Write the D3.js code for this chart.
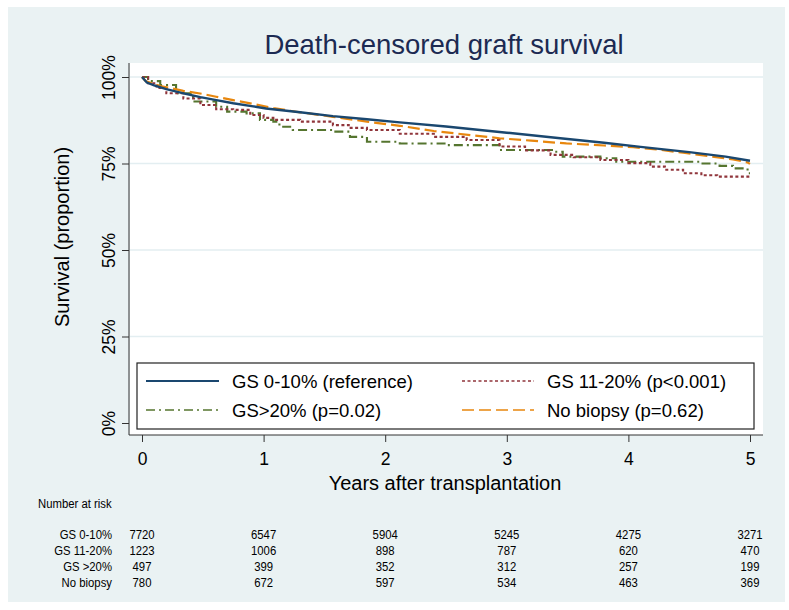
<!DOCTYPE html>
<html>
<head>
<meta charset="utf-8">
<script src="https://cdn.jsdelivr.net/npm/d3@7"></script>
<style>
  html, body { margin: 0; padding: 0; background: #ffffff; }
  svg { display: block; font-family: "Liberation Sans", Arial, Helvetica, sans-serif; }
</style>
</head>
<body>
<svg id="chart" width="789" height="610"></svg>
<script>
// ---- Data ----
const titleText = "Death-censored graft survival";
const xTicks = [0, 1, 2, 3, 4, 5];
const yTicks = [0, 0.25, 0.5, 0.75, 1];
const seriesNames = ["GS 0-10% (reference)", "GS 11-20% (p<0.001)", "GS>20% (p=0.02)", "No biopsy (p=0.62)"];
const riskLabels = ["GS 0-10%", "GS 11-20%", "GS >20%", "No biopsy"];

const riskGS010 = [7720, 6547, 5904, 5245, 4275, 3271];
const riskGS1120 = [1223, 1006, 898, 787, 620, 470];
const riskGS20 = [497, 399, 352, 312, 257, 199];
const riskNoBiopsy = [780, 672, 597, 534, 463, 369];

// Survival curves (years, proportion %)
const gs010Time = [0, 0.04, 0.1, 0.2, 0.35, 0.48, 0.6, 0.75, 0.9, 1.02, 1.3, 1.57, 1.85, 2.12, 2.5, 3.0, 3.44, 3.8, 4.1, 4.5, 4.8, 5.0];
const gs010Surv = [100, 98.4, 97.6, 96.5, 95.2, 94.2, 93.4, 92.4, 91.6, 90.9, 89.8, 88.7, 87.8, 86.9, 85.7, 83.9, 82.3, 81.0, 79.8, 78.3, 77.0, 75.8];

const gs1120Time = [0, 0.05, 0.12, 0.2, 0.34, 0.48, 0.61, 0.75, 0.89, 1.0, 1.08, 1.3, 1.57, 1.7, 1.85, 2.12, 2.4, 2.67, 2.94, 3.15, 3.36, 3.55, 3.77, 4.0, 4.18, 4.3, 4.45, 4.6, 4.73, 5.0];
const gs1120Surv = [100, 98.2, 96.8, 95.3, 93.8, 91.9, 90.7, 90.5, 89.0, 88.2, 87.6, 87.1, 86.1, 85.3, 84.7, 83.6, 82.7, 81.8, 79.9, 78.8, 77.5, 76.8, 76.0, 75.1, 74.1, 73.2, 72.2, 71.6, 71.2, 70.7];

const gs20Time = [0, 0.05, 0.15, 0.28, 0.42, 0.61, 0.7, 0.86, 0.97, 1.08, 1.13, 1.24, 1.57, 1.71, 1.85, 2.12, 2.5, 2.94, 3.38, 3.46, 3.77, 3.9, 4.59, 4.75, 4.86, 4.98, 5.0];
const gs20Surv = [100, 98.8, 97.7, 95.3, 92.9, 91.4, 90.0, 89.5, 87.6, 87.1, 85.6, 84.7, 84.2, 82.7, 81.3, 80.8, 80.3, 78.9, 78.4, 77.0, 76.5, 75.5, 75.0, 74.3, 73.6, 72.2, 72.2];

const noBiopsyTime = [0, 0.03, 0.15, 0.34, 0.5, 0.61, 0.75, 0.89, 1.08, 1.3, 1.57, 1.85, 2.12, 2.4, 2.7, 2.94, 3.2, 3.49, 3.8, 4.04, 4.25, 4.45, 4.65, 4.86, 4.98, 5.0];
const noBiopsySurv = [100, 98.8, 97.4, 96.0, 95.1, 94.3, 93.3, 92.4, 91.0, 89.8, 88.5, 87.1, 85.9, 84.4, 83.2, 82.3, 81.6, 80.8, 80.2, 79.7, 79.0, 78.1, 77.2, 76.2, 75.3, 74.9];

// ---- Build ----
const svg = d3.select("#chart");

// outer background
svg.append("rect").attr("x", 8).attr("y", 7).attr("width", 777).attr("height", 595).attr("fill", "#eaf2f3");

const plotL = 130, plotR = 763, plotT = 63, plotB = 435;
svg.append("rect").attr("x", plotL).attr("y", plotT).attr("width", plotR - plotL).attr("height", plotB - plotT).attr("fill", "#ffffff");

const x = d3.scaleLinear().domain([0, 5]).range([142, 750]);
const y = d3.scaleLinear().domain([0, 1]).range([423, 77]);

// gridlines
svg.append("g").selectAll("line").data(yTicks.filter(d => d > 0)).join("line")
  .attr("x1", plotL).attr("x2", plotR)
  .attr("y1", d => y(d)).attr("y2", d => y(d))
  .attr("stroke", "#e3eef1").attr("stroke-width", 1.5);

// axes
const yAxis = d3.axisLeft(y).tickValues(yTicks).tickSize(7).tickFormat(d => Math.round(d * 100) + "%");
const gy = svg.append("g").attr("transform", `translate(${plotL - 1},0)`).call(yAxis);
gy.select(".domain").attr("d", `M0,${plotT}V${plotB}`).attr("stroke", "#333");
gy.selectAll(".tick line").attr("stroke", "#333");
gy.selectAll(".tick text")
  .attr("font-size", 17.5).attr("fill", "#000")
  .attr("x", 0).attr("dy", 0).attr("y", 0)
  .attr("transform", "translate(-14,0) rotate(-90)")
  .attr("text-anchor", "middle");

const xAxis = d3.axisBottom(x).tickValues(xTicks).tickSize(7).tickFormat(d3.format("d"));
const gx = svg.append("g").attr("transform", `translate(0,${plotB})`).call(xAxis);
gx.select(".domain").attr("d", `M${plotL - 1},0H${plotR}`).attr("stroke", "#333");
gx.selectAll(".tick line").attr("stroke", "#333");
gx.selectAll(".tick text").attr("font-size", 17.5).attr("fill", "#000").attr("y", 30).attr("dy", 0);

// Curves
const series = [
  { name: seriesNames[0], t: gs010Time, s: gs010Surv, color: "#1a476f", dash: null, width: 2.4, curve: d3.curveLinear },
  { name: seriesNames[1], t: gs1120Time, s: gs1120Surv, color: "#90353b", dash: "3,2.5", width: 2.1, curve: d3.curveStepAfter },
  { name: seriesNames[2], t: gs20Time, s: gs20Surv, color: "#55752f", dash: "9,4,2,4", width: 2.1, curve: d3.curveStepAfter },
  { name: seriesNames[3], t: noBiopsyTime, s: noBiopsySurv, color: "#e8870e", dash: "12,5", width: 2.2, curve: d3.curveLinear }
];
const drawOrder = [2, 1, 3, 0];
drawOrder.forEach(i => {
  const sr = series[i];
  const pts = sr.t.map((t, k) => [t, sr.s[k] / 100]);
  const line = d3.line().x(d => x(d[0])).y(d => y(d[1])).curve(sr.curve);
  svg.append("path").attr("d", line(pts)).attr("fill", "none")
    .attr("stroke", sr.color).attr("stroke-width", sr.width)
    .attr("stroke-dasharray", sr.dash);
});

// Legend
const lg = svg.append("g");
lg.append("rect").attr("x", 137).attr("y", 363).attr("width", 617).attr("height", 66)
  .attr("fill", "#fff").attr("stroke", "#222").attr("stroke-width", 1.2);
const legPos = [
  { sx: 146, tx: 232, y: 381 },
  { sx: 462, tx: 547, y: 381 },
  { sx: 146, tx: 232, y: 410 },
  { sx: 462, tx: 547, y: 410 }
];
series.forEach((sr, i) => {
  const p = legPos[i];
  lg.append("line").attr("x1", p.sx).attr("x2", p.sx + (i % 2 === 0 ? 73 : 72)).attr("y1", p.y).attr("y2", p.y)
    .attr("stroke", sr.color).attr("stroke-width", i === 0 ? 1.8 : 1.6).attr("stroke-dasharray", sr.dash);
  lg.append("text").attr("x", p.tx).attr("y", p.y + 7).attr("font-size", 18.5).attr("fill", "#000").text(sr.name);
});

// Title and axis titles
svg.append("text").attr("x", 444).attr("y", 54).attr("text-anchor", "middle")
  .attr("font-size", 27.5).attr("fill", "#1c2a52").text(titleText);
svg.append("text").attr("transform", "translate(69,237) rotate(-90)").attr("text-anchor", "middle")
  .attr("font-size", 20).attr("fill", "#000").text("Survival (proportion)");
svg.append("text").attr("x", 445).attr("y", 490).attr("text-anchor", "middle")
  .attr("font-size", 20).attr("fill", "#000").text("Years after transplantation");

// Number at risk table (condensed look via horizontal scale)
const rt = svg.append("g").attr("font-size", 13.5).attr("fill", "#000");
const narrow = 0.84;
function ntext(xp, yp, anchor, str) {
  rt.append("text").attr("transform", `translate(${xp},${yp}) scale(${narrow},1)`)
    .attr("text-anchor", anchor).text(str);
}
ntext(38, 508, "start", "Number at risk");
const riskRows = [riskGS010, riskGS1120, riskGS20, riskNoBiopsy];
const rowY = d3.scalePoint().domain(riskLabels).range([539, 587]);
riskLabels.forEach((lab, r) => {
  ntext(112, rowY(lab), "end", lab);
  riskRows[r].forEach((v, c) => ntext(x(xTicks[c]), rowY(lab), "middle", v));
});
</script>
</body>
</html>
